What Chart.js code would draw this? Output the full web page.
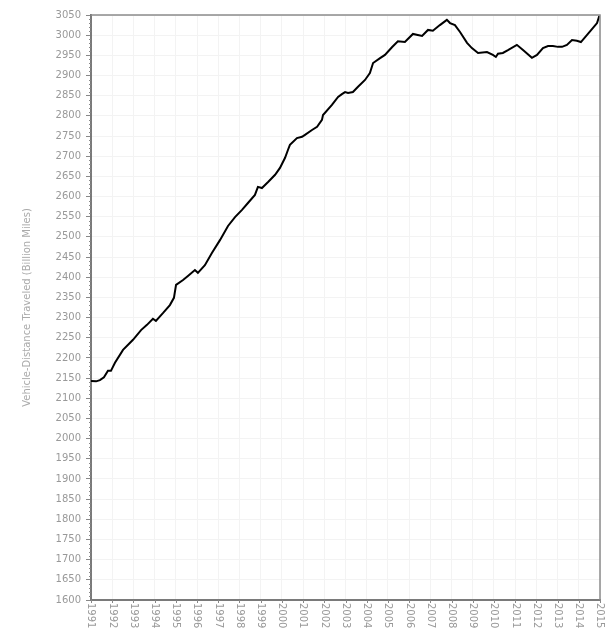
<!DOCTYPE html>
<html>
<head>
<meta charset="utf-8">
<script src="https://cdn.jsdelivr.net/npm/chart.js@4.4.0/dist/chart.umd.min.js"></script>
<style>
  html, body { margin: 0; padding: 0; background: #fff; }
</style>
</head>
<body>
<canvas id="vmt" width="613" height="638"></canvas>
<script>
// moving 12-month total (decimal year -> billion miles)
const dates = [
  1991.00, 1991.24, 1991.42, 1991.61, 1991.80, 1991.94, 1992.13, 1992.51, 1992.98, 1993.36,
  1993.64, 1993.92, 1994.06, 1994.39, 1994.72, 1994.91, 1995.01, 1995.34, 1995.57, 1995.90,
  1996.04, 1996.37, 1996.70, 1997.08, 1997.46, 1997.79, 1998.12, 1998.40, 1998.73, 1998.87,
  1999.06, 1999.35, 1999.68, 1999.91, 2000.15, 2000.29, 2000.38, 2000.71, 2000.95, 2001.09,
  2001.42, 2001.66, 2001.89, 2001.94, 2002.36, 2002.65, 2002.83, 2002.98, 2003.12, 2003.35,
  2003.59, 2003.92, 2004.15, 2004.30, 2004.63, 2004.86, 2005.19, 2005.47, 2005.80, 2006.18,
  2006.61, 2006.89, 2007.12, 2007.45, 2007.78, 2007.93, 2008.16, 2008.40, 2008.73, 2008.96,
  2009.25, 2009.67, 2009.95, 2010.09, 2010.19, 2010.42, 2010.66, 2011.08, 2011.37, 2011.79,
  2012.03, 2012.31, 2012.55, 2012.78, 2013.02, 2013.21, 2013.44, 2013.68, 2013.91, 2014.10,
  2014.38, 2014.67, 2014.86, 2014.97
];
const vmt = [
  2143, 2142, 2145, 2152, 2168, 2168, 2188, 2220, 2245, 2269,
  2282, 2297, 2292, 2311, 2331, 2349, 2381, 2393, 2403, 2418,
  2411, 2430, 2460, 2492, 2527, 2549, 2567, 2584, 2604, 2624,
  2621, 2636, 2654, 2671, 2696, 2716, 2728, 2745, 2748, 2753,
  2765, 2773, 2790, 2802, 2827, 2847, 2854, 2859, 2857, 2859,
  2872, 2889, 2906, 2931, 2943, 2951, 2970, 2985, 2983, 3003,
  2998, 3013, 3011, 3025, 3038, 3030, 3025, 3008, 2981, 2968,
  2956, 2958, 2951, 2946, 2954, 2956, 2963, 2976, 2963, 2944,
  2951, 2968, 2973, 2973, 2971, 2971, 2976, 2988, 2986, 2983,
  3000, 3018, 3030, 3048
];
const yearLabels = [
  1991, 1992, 1993, 1994, 1995, 1996, 1997, 1998, 1999, 2000, 2001, 2002, 2003,
  2004, 2005, 2006, 2007, 2008, 2009, 2010, 2011, 2012, 2013, 2014, 2015
];

const labelFont = '10px "DejaVu Sans"';
const labelColor = '#999';

// frame, minor ticks and year labels (these read top to bottom in the original)
const frame = {
  id: 'frame',
  afterDraw(chart) {
    const { ctx, chartArea: a, scales: { x, y } } = chart;
    ctx.save();
    ctx.strokeStyle = '#8c8c8c';
    ctx.lineWidth = 1.5;
    ctx.beginPath();
    ctx.moveTo(a.left, a.top);
    ctx.lineTo(a.right, a.top);
    ctx.lineTo(a.right, a.bottom);
    ctx.stroke();

    ctx.strokeStyle = '#888';
    ctx.lineWidth = 1;
    ctx.beginPath();
    for (let v = 1600; v <= 3050; v += 10) {
      if (v % 50 === 0) continue;
      const py = Math.round(y.getPixelForValue(v)) + 0.5;
      ctx.moveTo(a.left - 2, py);
      ctx.lineTo(a.left, py);
    }
    yearLabels.forEach(yr => {
      const px = Math.round(x.getPixelForValue(yr)) + 0.5;
      ctx.moveTo(px, a.bottom);
      ctx.lineTo(px, a.bottom + 3);
    });
    ctx.stroke();

    ctx.fillStyle = labelColor;
    ctx.font = labelFont;
    ctx.textAlign = 'left';
    ctx.textBaseline = 'middle';
    yearLabels.forEach(yr => {
      ctx.save();
      ctx.translate(x.getPixelForValue(yr), a.bottom + 3);
      ctx.rotate(Math.PI / 2);
      ctx.fillText(String(yr), 0, 0);
      ctx.restore();
    });
    ctx.restore();
  }
};

new Chart(document.getElementById('vmt'), {
  type: 'line',
  data: {
    datasets: [{
      data: dates.map((d, i) => ({ x: d, y: vmt[i] })),
      borderColor: '#000',
      borderWidth: 2,
      pointRadius: 0,
      tension: 0,
      fill: false
    }]
  },
  options: {
    responsive: false,
    animation: false,
    devicePixelRatio: 1,
    layout: { padding: { top: 15, right: 13, left: 0, bottom: 0 } },
    plugins: { legend: { display: false }, tooltip: { enabled: false } },
    scales: {
      x: {
        type: 'linear',
        min: 1991,
        max: 2015,
        ticks: { display: false, stepSize: 1 },
        grid: { color: '#f3f3f3', drawTicks: false },
        border: { color: '#7a7a7a', width: 2 },
        afterFit(scale) { scale.height = 38; }
      },
      y: {
        min: 1600,
        max: 3050,
        ticks: {
          stepSize: 50,
          color: labelColor,
          font: { family: 'DejaVu Sans', size: 10 },
          padding: 5,
          callback: v => String(v)
        },
        grid: { color: '#f3f3f3', tickColor: '#888', tickLength: 5 },
        border: { color: '#7a7a7a', width: 2 },
        title: {
          display: true,
          text: 'Vehicle-Distance Traveled (Billion Miles)',
          color: '#aaa',
          font: { family: 'DejaVu Sans', size: 10 },
          padding: { top: 21, bottom: 0 }
        },
        afterFit(scale) { scale.width = 91; }
      }
    }
  },
  plugins: [frame]
});
</script>
</body>
</html>
